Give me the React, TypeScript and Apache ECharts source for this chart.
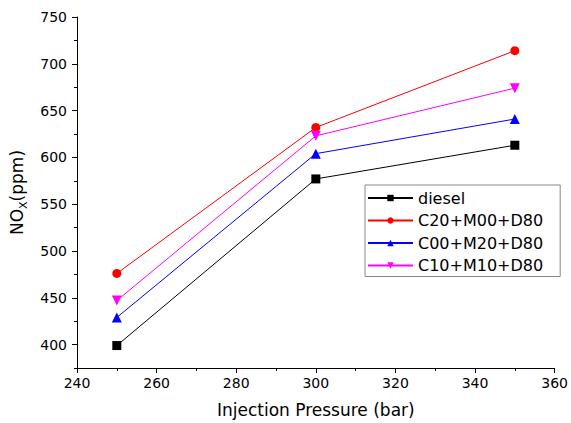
import React, { useEffect, useRef } from "react";
import * as echarts from "echarts";

const pressures = [250, 300, 350];
const diesel = [399, 577, 613];
const c20m00d80 = [476, 632, 714];
const c00m20d80 = [429, 604, 641];
const c10m10d80 = [447, 623, 674];
const seriesNames = ["diesel", "C20+M00+D80", "C00+M20+D80", "C10+M10+D80"];
const yMajorTicks = [400, 450, 500, 550, 600, 650, 700, 750];
const yMinorTicks = [375, 425, 475, 525, 575, 625, 675, 725];

const FONT = "DejaVu Sans";

export default function App() {
  const ref = useRef<HTMLDivElement>(null);
  useEffect(() => {
    if (!ref.current) return;
    const chart = echarts.init(ref.current, null, { renderer: "svg" });
    const toPairs = (vals: number[]) => pressures.map((p, i) => [p, vals[i]]);
    const mk = (name: string, vals: number[], color: string, symbol: string, rotate = 0, size = 9) => ({
      name,
      type: "line",
      data: toPairs(vals),
      symbol,
      symbolSize: size,
      symbolRotate: rotate,
      itemStyle: { color },
      lineStyle: { color, width: 1 },
      emphasis: { disabled: true },
    });
    chart.setOption({
      animation: false,
      backgroundColor: "#ffffff",
      grid: { left: 77, right: 14, top: 17, bottom: 55 },
      legend: {
        left: 365,
        top: 185,
        orient: "vertical",
        itemWidth: 45,
        itemHeight: 8,
        itemGap: 6.5,
        padding: [5, 17, 3, 2],
        borderColor: "#888",
        borderWidth: 1,
        backgroundColor: "#fff",
        textStyle: { fontFamily: FONT, fontSize: 16, color: "#000" },
        data: seriesNames,
      },
      xAxis: {
        type: "value",
        min: 240,
        max: 360,
        interval: 20,
        name: "Injection Pressure (bar)",
        nameLocation: "middle",
        nameGap: 33,
        nameTextStyle: { fontFamily: FONT, fontSize: 17, color: "#000" },
        axisLine: { show: true, lineStyle: { color: "#000", width: 1 } },
        axisTick: { show: true, length: 5, lineStyle: { color: "#000" } },
        minorTick: { show: true, splitNumber: 2, length: 3, lineStyle: { color: "#000" } },
        axisLabel: { fontFamily: FONT, fontSize: 14, color: "#000", margin: 8 },
        splitLine: { show: false },
      },
      yAxis: [
        {
          type: "value",
          min: 375,
          max: 750,
          name: "{a|NO}{s|X}{a|(ppm)}",
          nameLocation: "middle",
          nameRotate: 90,
          nameGap: 40,
          nameTextStyle: {
            fontFamily: FONT,
            color: "#000",
            rich: {
              a: { fontFamily: FONT, fontSize: 17, color: "#000", lineHeight: 17, verticalAlign: "top" },
              s: { fontFamily: FONT, fontSize: 11, color: "#000", lineHeight: 21, verticalAlign: "bottom" },
            },
          },
          axisLine: { show: true, lineStyle: { color: "#000", width: 1 } },
          axisTick: { show: true, length: 5, customValues: yMajorTicks, lineStyle: { color: "#000" } },
          axisLabel: { fontFamily: FONT, fontSize: 14, color: "#000", margin: 10, customValues: yMajorTicks },
          splitLine: { show: false },
        },
        {
          type: "value",
          min: 375,
          max: 750,
          position: "left",
          axisLine: { show: false },
          axisTick: { show: true, length: 3, customValues: yMinorTicks, lineStyle: { color: "#000" } },
          axisLabel: { show: false },
          splitLine: { show: false },
        },
      ],
      series: [
        mk(seriesNames[0], diesel, "#000000", "rect", 0, 9),
        mk(seriesNames[1], c20m00d80, "#ff0000", "circle", 0, 9),
        mk(seriesNames[2], c00m20d80, "#0000ff", "triangle", 0, 10),
        mk(seriesNames[3], c10m10d80, "#ff00ff", "triangle", 180, 10),
      ],
    });
    return () => chart.dispose();
  }, []);
  return (
    <div
      ref={ref}
      style={{ position: "fixed", left: 0, top: 0, width: 571, height: 423, background: "#fff" }}
    />
  );
}
